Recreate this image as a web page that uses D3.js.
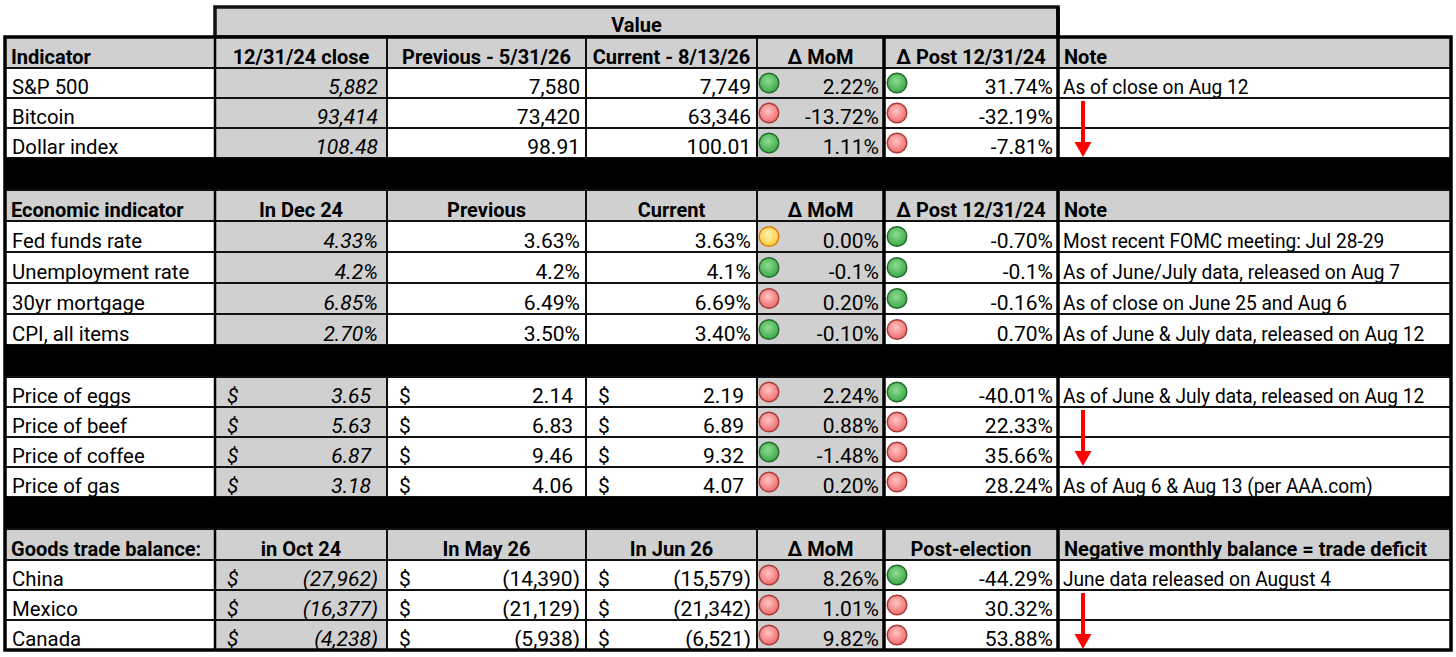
<!DOCTYPE html>
<html>
<head>
<meta charset="utf-8">
<script src="https://cdn.jsdelivr.net/npm/d3@7"></script>
<style>
  body { margin: 0; background: #fff; }
  svg { display: block; }
</style>
</head>
<body>
<div id="chart"></div>
<script>
// ---------- data ----------
const valueTitle = "Value";

// markets
const marketHeader = ["Indicator", "12/31/24 close", "Previous - 5/31/26", "Current - 8/13/26", "Δ MoM", "Δ Post 12/31/24", "Note"];
const marketNames = ["S&P 500", "Bitcoin", "Dollar index"];
const marketBase = [5882, 93414, 108.48];
const marketPrev = [7580, 73420, 98.91];
const marketCur = [7749, 63346, 100.01];
const marketMoM = [2.22, -13.72, 1.11];
const marketPost = [31.74, -32.19, -7.81];
const marketMoMSig = ["green", "red", "green"];
const marketPostSig = ["green", "red", "red"];
const marketNotes = ["As of close on Aug 12", "", ""];
const marketFmt = [",.0f", ",.0f", ".2f"];

// economic indicators (percent)
const econHeader = ["Economic indicator", "In Dec 24", "Previous", "Current", "Δ MoM", "Δ Post 12/31/24", "Note"];
const econNames = ["Fed funds rate", "Unemployment rate", "30yr mortgage", "CPI, all items"];
const econBase = [4.33, 4.2, 6.85, 2.70];
const econPrev = [3.63, 4.2, 6.49, 3.50];
const econCur = [3.63, 4.1, 6.69, 3.40];
const econMoM = [0.00, -0.1, 0.20, -0.10];
const econPost = [-0.70, -0.1, -0.16, 0.70];
const econMoMSig = ["yellow", "green", "red", "green"];
const econPostSig = ["green", "green", "green", "red"];
const econNotes = [
  "Most recent FOMC meeting: Jul 28-29",
  "As of June/July data, released on Aug 7",
  "As of close on June 25 and Aug 6",
  "As of June & July data, released on Aug 12"
];
const econDigits = [2, 1, 2, 2];

// prices ($)
const priceNames = ["Price of eggs", "Price of beef", "Price of coffee", "Price of gas"];
const priceBase = [3.65, 5.63, 6.87, 3.18];
const pricePrev = [2.14, 6.83, 9.46, 4.06];
const priceCur = [2.19, 6.89, 9.32, 4.07];
const priceMoM = [2.24, 0.88, -1.48, 0.20];
const pricePost = [-40.01, 22.33, 35.66, 28.24];
const priceMoMSig = ["red", "red", "green", "red"];
const pricePostSig = ["green", "red", "red", "red"];
const priceNotes = ["As of June & July data, released on Aug 12", "", "", "As of Aug 6 & Aug 13 (per AAA.com)"];

// goods trade balance ($ millions)
const tradeHeader = ["Goods trade balance:", "in Oct 24", "In May 26", "In Jun 26", "Δ MoM", "Post-election", "Negative monthly balance = trade deficit"];
const tradeNames = ["China", "Mexico", "Canada"];
const tradeBase = [-27962, -16377, -4238];
const tradePrev = [-14390, -21129, -5938];
const tradeCur = [-15579, -21342, -6521];
const tradeMoM = [8.26, 1.01, 9.82];
const tradePost = [-44.29, 30.32, 53.88];
const tradeMoMSig = ["red", "red", "red"];
const tradePostSig = ["green", "red", "red"];
const tradeNotes = ["June data released on August 4", "", ""];

// ---------- layout ----------
const W = 1456, H = 657;
const GRAY = "#d0d0d0";
const FONT = "'Liberation Sans Narrow', 'Arial Narrow', 'Roboto', sans-serif";

const colWidths = [210, 172, 199, 171, 127, 174, 393];
const colEdges = [5, ...Array.from(d3.cumsum(colWidths), (v) => v + 5)];
const x = d3.scaleOrdinal().domain(d3.range(colEdges.length)).range(colEdges);

const pct = (d) => (v) => v.toFixed(d) + "%";
const acct = (f) => (v) => v < 0 ? "(" + d3.format(f)(-v) + ")" : d3.format(f)(v);

// each section -> rows
function sectionRows(o) {
  const rows = [];
  if (o.header) rows.push({ kind: "header", cells: o.header });
  o.names.forEach((n, i) => {
    rows.push({
      kind: "data", tall: o.tall, name: n,
      vals: [o.base[i], o.prev[i], o.cur[i]].map((v) => o.fmt(i)(v)),
      neg: [o.base[i], o.prev[i], o.cur[i]].map((v) => v < 0),
      dollar: o.dollar,
      mom: o.pctFmt(i)(o.mom[i]), post: o.pctFmt(i)(o.post[i]),
      momSig: o.momSig[i], postSig: o.postSig[i],
      note: o.notes[i]
    });
  });
  return rows;
}

const rows = [{ kind: "value" }]
  .concat(sectionRows({ header: marketHeader, names: marketNames, base: marketBase, prev: marketPrev, cur: marketCur,
    fmt: (i) => d3.format(marketFmt[i]), pctFmt: () => pct(2), mom: marketMoM, post: marketPost,
    momSig: marketMoMSig, postSig: marketPostSig, notes: marketNotes }))
  .concat([{ kind: "band" }])
  .concat(sectionRows({ header: econHeader, names: econNames, base: econBase, prev: econPrev, cur: econCur, tall: true,
    fmt: (i) => pct(econDigits[i]), pctFmt: (i) => pct(econDigits[i]), mom: econMoM, post: econPost,
    momSig: econMoMSig, postSig: econPostSig, notes: econNotes }))
  .concat([{ kind: "band" }])
  .concat(sectionRows({ names: priceNames, base: priceBase, prev: pricePrev, cur: priceCur, dollar: true,
    fmt: () => acct(".2f"), pctFmt: () => pct(2), mom: priceMoM, post: pricePost,
    momSig: priceMoMSig, postSig: pricePostSig, notes: priceNotes }))
  .concat([{ kind: "band" }])
  .concat(sectionRows({ header: tradeHeader, names: tradeNames, base: tradeBase, prev: tradePrev, cur: tradeCur, dollar: true,
    fmt: () => acct(",.0f"), pctFmt: () => pct(2), mom: tradeMoM, post: tradePost,
    momSig: tradeMoMSig, postSig: tradePostSig, notes: tradeNotes }));

const heightOf = (r) => r.kind === "value" ? 30 : r.kind === "header" ? 31 : r.kind === "band" ? 32 : (r.tall ? 31 : 30);
const tops = [7, ...Array.from(d3.cumsum(rows, heightOf), (v) => v + 7)];
rows.forEach((r, i) => { r.y = tops[i]; r.h = heightOf(r); r.i = i; });
const tableTop = rows[1].y, tableBottom = tops[tops.length - 1];

const svg = d3.select("#chart").append("svg").attr("width", W).attr("height", H);

// signal dot gradients
const sigColors = {
  green: ["#8fdc8f", "#3aa84a", "#226b2a"],
  red: ["#ffc4c4", "#ee6b6b", "#a83a3a"],
  yellow: ["#fff2b0", "#ffcc40", "#e07a00"]
};
const defs = svg.append("defs");
Object.entries(sigColors).forEach(([k, c]) => {
  const g = defs.append("radialGradient").attr("id", "sig-" + k)
    .attr("cx", "45%").attr("cy", "40%").attr("r", "60%");
  g.append("stop").attr("offset", "0%").attr("stop-color", c[0]);
  g.append("stop").attr("offset", "100%").attr("stop-color", c[1]);
});

// text helper; sx squeezes the note text a bit (sheet uses a narrow face)
const txt = (g, str, tx, ty, anchor, opts = {}) => g.append("text")
  .attr("transform", `translate(${tx},${ty}) scale(${opts.sx || 1},1)`)
  .attr("text-anchor", anchor)
  .attr("font-family", FONT)
  .attr("font-size", opts.size || 21)
  .attr("font-weight", opts.bold ? "bold" : "normal")
  .attr("font-style", opts.italic ? "italic" : "normal")
  .attr("fill", "#000")
  .text(str);

const cells = svg.append("g");
const lines = svg.append("g");

rows.forEach((r) => {
  const g = cells.append("g");
  const base = r.y + r.h - 4.5;
  if (r.kind === "value") {
    g.append("rect").attr("x", x(1)).attr("y", r.y).attr("width", x(6) - x(1)).attr("height", r.h)
      .attr("fill", GRAY).attr("stroke", "#111").attr("stroke-width", 3.5);
    txt(g, valueTitle, (x(1) + x(6)) / 2, base - 1, "middle", { bold: true, size: 20 });
    return;
  }
  if (r.kind === "band") {
    g.append("rect").attr("x", x(0)).attr("y", r.y).attr("width", x(7) - x(0)).attr("height", r.h).attr("fill", "#000");
    return;
  }
  d3.range(7).forEach((c) => {
    const fill = r.kind === "header" || c === 1 || c === 4 ? GRAY : "#fff";
    g.append("rect").attr("x", x(c)).attr("y", r.y).attr("width", x(c + 1) - x(c)).attr("height", r.h)
      .attr("fill", fill).attr("stroke", "#111").attr("stroke-width", 2);
  });
  if (r.kind === "header") {
    r.cells.forEach((s, c) => {
      if (c === 0 || c === 6) txt(g, s, x(c) + 6, base, "start", { bold: true, size: 20 });
      else txt(g, s, (x(c) + x(c + 1)) / 2, base, "middle", { bold: true, size: 20 });
    });
    return;
  }
  // data row
  txt(g, r.name, x(0) + 7, base, "start", { sx: 0.97 });
  r.vals.forEach((v, k) => {
    const c = k + 1;
    const italic = c === 1;
    let pad = italic ? 9 : 6;
    if (r.dollar) {
      txt(g, "$", x(c) + 12, base, "start", { italic });
      if (!r.neg[k]) pad += 7;
    }
    txt(g, v, x(c + 1) - pad, base, "end", { italic });
  });
  [[4, r.mom, r.momSig, 12], [5, r.post, r.postSig, 13]].forEach(([c, v, sig, off]) => {
    g.append("circle").attr("cx", x(c) + off).attr("cy", r.y + r.h / 2).attr("r", 9.8)
      .attr("fill", `url(#sig-${sig})`).attr("stroke", sigColors[sig][2]).attr("stroke-width", 1.4);
    txt(g, v, x(c + 1) - 5, base, "end");
  });
  if (r.note) txt(g, r.note, x(6) + 5, base, "start", { sx: 0.91 });
});

// heavier rules
[1, 5, 6].forEach((c) => {
  lines.append("line").attr("x1", x(c)).attr("x2", x(c))
    .attr("y1", c === 6 ? rows[0].y : tableTop).attr("y2", tableBottom)
    .attr("stroke", "#000").attr("stroke-width", c === 1 ? 2.5 : 3.5);
});
lines.append("rect").attr("x", x(0)).attr("y", tableTop).attr("width", x(7) - x(0)).attr("height", tableBottom - tableTop)
  .attr("fill", "none").attr("stroke", "#000").attr("stroke-width", 3.5);

// red arrows over blocks of empty notes
const arrowX = x(6) + 25;
let run = null;
rows.forEach((r, i) => {
  const empty = r.kind === "data" && !r.note;
  if (empty && !run) run = { top: r.y };
  const next = rows[i + 1];
  const nextEmpty = next && next.kind === "data" && !next.note;
  if (empty && !nextEmpty) {
    const y0 = run.top + 3, y1 = r.y + r.h - 1;
    lines.append("rect").attr("x", arrowX - 2).attr("y", y0).attr("width", 4).attr("height", y1 - y0 - 12).attr("fill", "#ff0000");
    lines.append("path").attr("d", `M${arrowX - 8.5},${y1 - 15}L${arrowX + 8.5},${y1 - 15}L${arrowX},${y1}Z`).attr("fill", "#ff0000");
    run = null;
  }
});
</script>
</body>
</html>
